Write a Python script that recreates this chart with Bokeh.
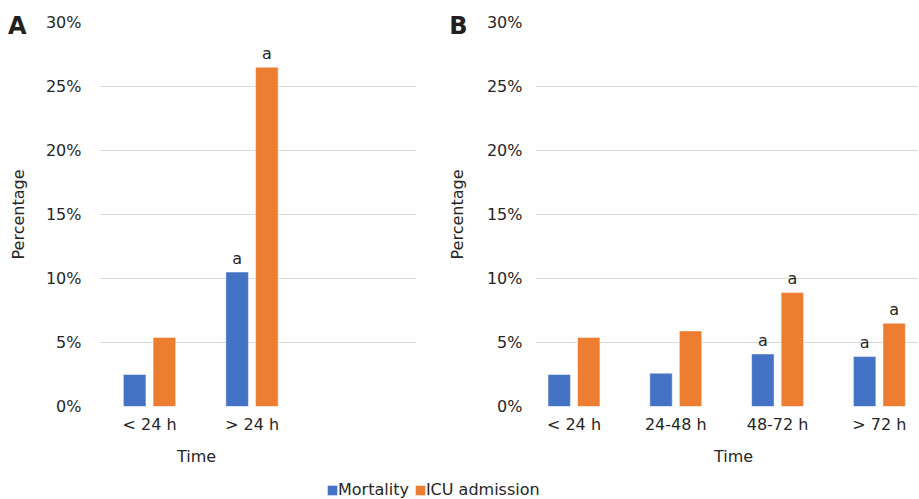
from bokeh.plotting import figure
from bokeh.layouts import column, row
from bokeh.models import Range1d, FixedTicker, LinearAxis
from bokeh.core.properties import value
from bokeh.embed import file_html
from bokeh.resources import INLINE

# ---- data ----
cats_a = ["< 24 h", "> 24 h"]
mort_a = [2.5, 10.5]
icu_a = [5.4, 26.5]
sig_mort_a = ["", "a"]
sig_icu_a = ["", "a"]

cats_b = ["< 24 h", "24-48 h", "48-72 h", "> 72 h"]
mort_b = [2.5, 2.6, 4.1, 3.9]
icu_b = [5.4, 5.9, 8.9, 6.5]
sig_mort_b = ["", "", "a", "a"]
sig_icu_b = ["", "", "a", "a"]

y_ticks = [0, 5, 10, 15, 20, 25, 30]
y_tick_labels = ["0%", "5%", "10%", "15%", "20%", "25%", "30%"]
series_names = ["Mortality", "ICU admission"]
colors = ["#4472C4", "#ED7D31"]
panel_letters = ["A", "B"]
x_title = "Time"
y_title = "Percentage"

FONT = "DejaVu Sans"
TXT = "#262626"
GRID = "#D9D9D9"


def style_axis(ax, size="16px", bold=False):
    ax.axis_line_color = None
    ax.major_tick_line_color = None
    ax.minor_tick_line_color = None
    ax.major_tick_out = 0
    ax.major_tick_in = 0
    ax.minor_tick_out = 0
    ax.minor_tick_in = 0
    ax.major_label_text_font = FONT
    ax.major_label_text_font_size = size
    ax.major_label_text_font_style = "bold" if bold else "normal"
    ax.major_label_text_color = "#231F20" if bold else TXT
    ax.axis_label_text_font = FONT
    ax.axis_label_text_font_size = "16px"
    ax.axis_label_text_font_style = "normal"
    ax.axis_label_text_color = TXT


def make_panel(cats, mort, icu, sig_m, sig_i, letter, width, mb_left, mb_right,
               x_lo, x_hi, tick_standoff, letter_standoff, ylabel_standoff, time_x):
    p = figure(width=width, height=479, output_backend="svg", toolbar_location=None,
               x_range=Range1d(x_lo, x_hi), y_range=Range1d(0, 30),
               min_border_left=mb_left, min_border_right=mb_right,
               min_border_top=22, min_border_bottom=73)
    p.outline_line_color = None
    xs = list(range(len(cats)))
    off = 0.145
    bw = 0.22
    p.vbar(x=[x - off for x in xs], top=mort, width=bw, bottom=0,
           fill_color=colors[0], line_color="white", line_alpha=0.45, line_width=1)
    p.vbar(x=[x + off for x in xs], top=icu, width=bw, bottom=0,
           fill_color=colors[1], line_color="white", line_alpha=0.45, line_width=1)
    for shift, vals, sig in ((-off, mort, sig_m), (off, icu, sig_i)):
        p.text(x=[x + shift for x in xs], y=vals, text=sig, y_offset=-14,
               text_align="center", text_baseline="alphabetic",
               text_font=value(FONT), text_font_size="16px", text_color=TXT)
    p.xgrid.visible = False
    p.ygrid.ticker = FixedTicker(ticks=y_ticks)
    p.ygrid.grid_line_color = GRID
    p.ygrid.grid_line_width = 1

    # inner y axis: percentage ticks
    yax = p.yaxis[0]
    yax.ticker = FixedTicker(ticks=y_ticks)
    yax.major_label_overrides = {t: l for t, l in zip(y_ticks, y_tick_labels)}
    style_axis(yax)
    yax.major_label_standoff = tick_standoff

    # outer y axis: panel letter + axis title
    letter_y = 29.7
    yax2 = LinearAxis(ticker=FixedTicker(ticks=[letter_y]),
                      major_label_overrides={letter_y: letter})
    style_axis(yax2, size="24px", bold=True)
    yax2.major_label_standoff = letter_standoff
    yax2.axis_label = y_title
    yax2.axis_label_standoff = ylabel_standoff
    p.add_layout(yax2, "left")

    # inner x axis: categories
    xax = p.xaxis[0]
    xax.ticker = FixedTicker(ticks=xs)
    xax.major_label_overrides = {i: c for i, c in enumerate(cats)}
    style_axis(xax)
    xax.major_label_standoff = 8

    # outer x axis: axis title placed as in the original
    xax2 = LinearAxis(ticker=FixedTicker(ticks=[time_x]),
                      major_label_overrides={time_x: x_title})
    style_axis(xax2)
    xax2.major_label_standoff = 10
    p.add_layout(xax2, "below")
    return p


pA = make_panel(cats_a, mort_a, icu_a, sig_mort_a, sig_icu_a, panel_letters[0],
                440, 99, 24, -0.488, 2.605, 18, 16, -23, 0.459)
pB = make_panel(cats_b, mort_b, icu_b, sig_mort_b, sig_icu_b, panel_letters[1],
                479, 95, 1, -0.378, 3.384, 13, 16, -21, 1.567)

pL = figure(width=919, height=20, output_backend="svg", toolbar_location=None,
            x_range=Range1d(0, 1), y_range=Range1d(0, 1),
            min_border_left=0, min_border_right=0, min_border_top=0, min_border_bottom=0)
pL.xaxis.visible = False
pL.yaxis.visible = False
pL.grid.visible = False
pL.outline_line_color = None
for name, c in zip(series_names, colors):
    pL.vbar(x=[0.5], top=[0], bottom=[0], width=0, fill_color=c, line_color=None,
            legend_label=name)
lg = pL.legend[0]
lg.location = (326, 0)
lg.orientation = "horizontal"
lg.padding = 0
lg.margin = 0
lg.spacing = 5
lg.label_standoff = 0
lg.glyph_width = 12
lg.glyph_height = 12
lg.border_line_color = None
lg.background_fill_alpha = 0
lg.label_text_font = FONT
lg.label_text_font_size = "16px"
lg.label_text_color = TXT

layout = column(row(pA, pB), pL)
open("out.html", "w").write(file_html(layout, INLINE))
